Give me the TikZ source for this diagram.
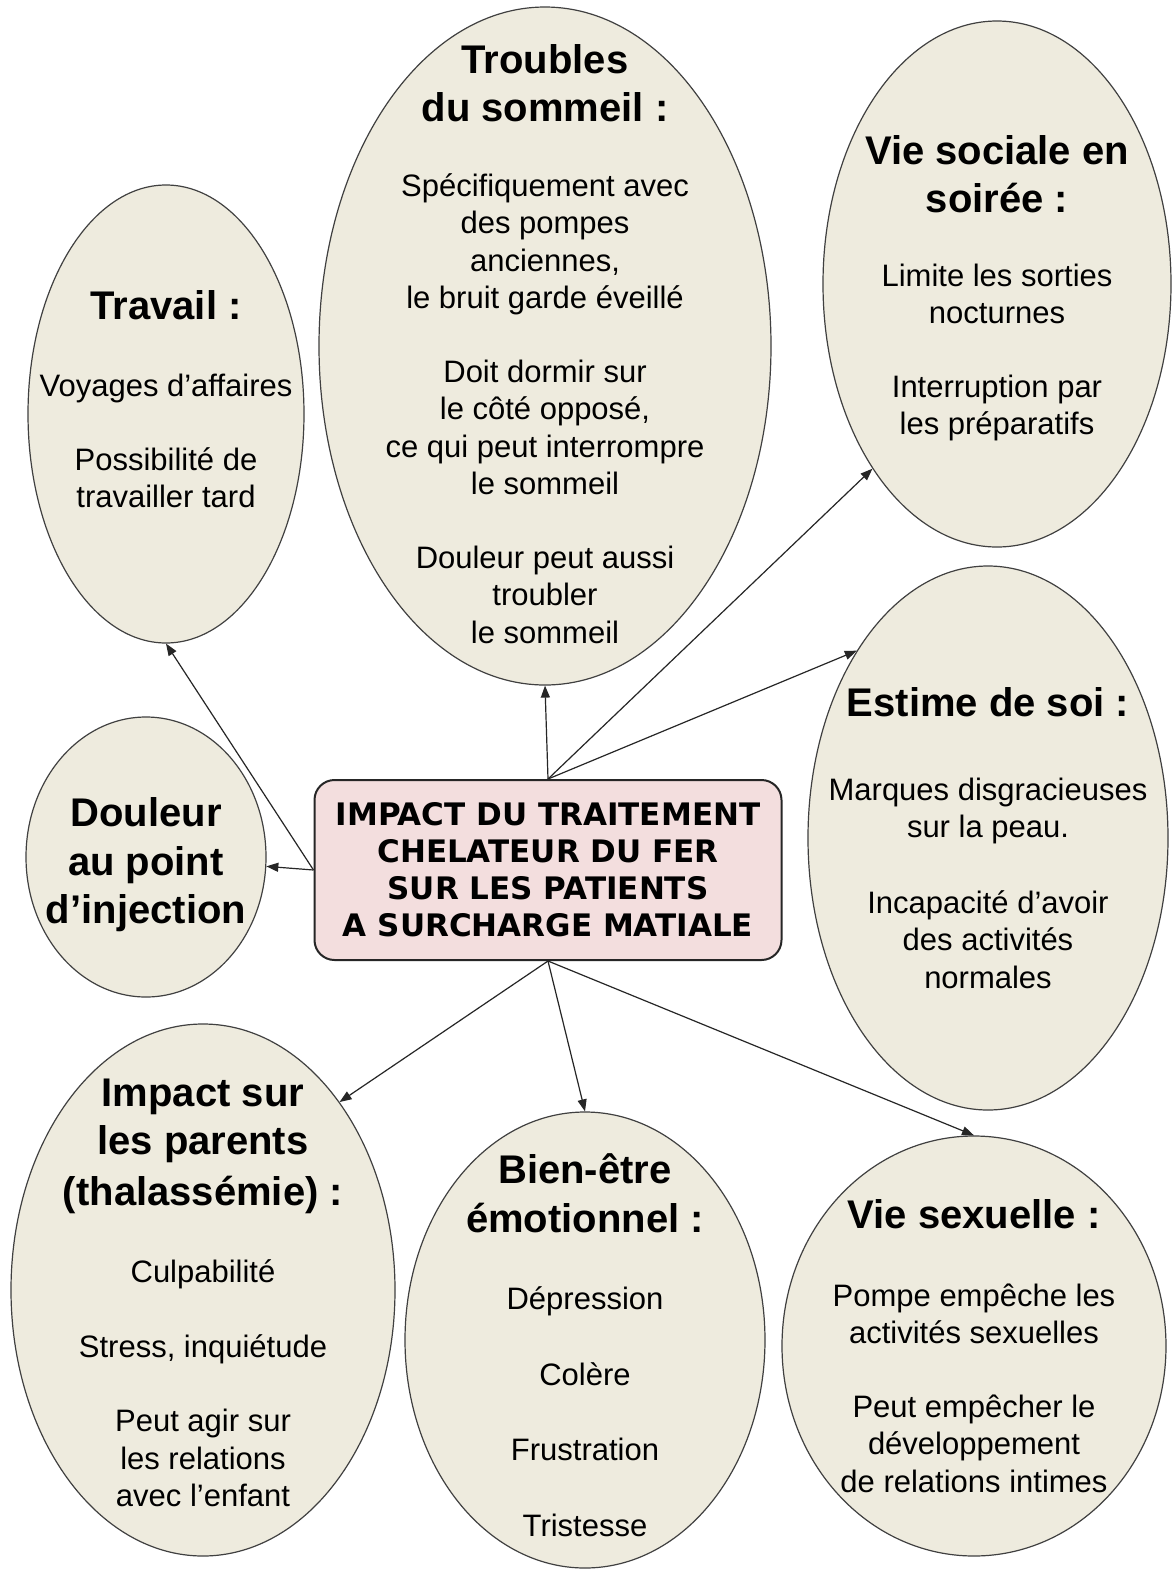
\documentclass[tikz,border=0pt]{standalone}
\usepackage{fontspec}
\setmainfont{Liberation Sans}
\newfontfamily\boxfont{DejaVu Sans}
\usetikzlibrary{shapes.geometric,arrows.meta}
\definecolor{bulle}{RGB}{238,235,222}
\definecolor{rose}{RGB}{243,222,222}
\newcommand\titre[1]{{\fontsize{20}{23}\selectfont\bfseries #1}}
\begin{document}
\begin{tikzpicture}[x=.5pt, y=-.5pt,
	bulle/.style={ellipse, draw=black!75, line width=.6pt, fill=bulle, inner sep=0pt},
	txt/.style={align=center, inner sep=0pt, font=\fontsize{15.5}{18.75}\selectfont},
	fleche/.style={draw=black!85, line width=.6pt, -{Triangle[length=6pt,width=4.5pt]}}]
	\useasboundingbox (0,0) rectangle (1174,1570);
	\fill[white] (0,0) rectangle (1174,1570);

	\node[bulle, minimum width=138pt, minimum height=229pt] (travail)  at (166,414)  {};
	\node[bulle, minimum width=226pt, minimum height=339pt] (sommeil)  at (545,346)  {};
	\node[bulle, minimum width=174pt, minimum height=263pt] (sociale)  at (997,284)  {};
	\node[bulle, minimum width=180pt, minimum height=272pt] (estime)   at (988,838)  {};
	\node[bulle, minimum width=120pt, minimum height=140pt] (douleur)  at (146,857)  {};
	\node[bulle, minimum width=192pt, minimum height=266pt] (parents)  at (203,1290) {};
	\node[bulle, minimum width=180pt, minimum height=228pt] (bienetre) at (585,1340) {};
	\node[bulle, minimum width=192pt, minimum height=210pt] (sexuelle) at (974,1346) {};

	\node[draw=black!85, line width=1pt, fill=rose, rounded corners=10pt,
		minimum width=233.5pt, minimum height=90pt, align=center,
		font=\boxfont\bfseries\fontsize{15.5}{18.5}\selectfont] (impact) at (548,870)
		{IMPACT DU TRAITEMENT\\CHELATEUR DU FER\\SUR LES PATIENTS\\A SURCHARGE MATIALE};

	\node[txt] (travail-txt) at (166,399) {\titre{Travail :}\\[20pt]
		Voyages d’affaires\\[18pt]Possibilité de\\travailler tard};
	\node[txt] (sommeil-txt) at (545,344) {\titre{Troubles}\\[5.5pt]\titre{du sommeil :}\\[18.5pt]
		Spécifiquement avec\\des pompes\\anciennes,\\le bruit garde éveillé\\[18pt]
		Doit dormir sur\\le côté opposé,\\ce qui peut interrompre\\le sommeil\\[18pt]
		Douleur peut aussi\\troubler\\le sommeil};
	\node[txt] (sociale-txt) at (997,288) {\titre{Vie sociale en}\\[5.5pt]\titre{soirée :}\\[18pt]
		Limite les sorties\\nocturnes\\[18pt]Interruption par\\les préparatifs};
	\node[txt] (estime-txt) at (estime) {\titre{Estime de soi :}\\[23pt]
		Marques disgracieuses\\sur la peau.\\[19pt]Incapacité d’avoir\\des activités\\normales};
	\node[txt] (douleur-txt) at (146,865) {\titre{Douleur}\\[5.5pt]\titre{au point}\\[5.5pt]\titre{d’injection}};
	\node[txt] (parents-txt) at (203,1293) {\titre{Impact sur}\\[5.5pt]\titre{les parents}\\[5.5pt]\titre{(thalassémie) :}\\[20pt]
		Culpabilité\\[18.5pt]Stress, inquiétude\\[18.5pt]Peut agir sur\\les relations\\avec l’enfant};
	\node[txt] (bienetre-txt) at (585,1345) {\titre{Bien-être}\\[5.5pt]\titre{émotionnel :}\\[20pt]
		Dépression\\[19pt]Colère\\[19pt]Frustration\\[19pt]Tristesse};
	\node[txt] (sexuelle-txt) at (sexuelle) {\titre{Vie sexuelle :}\\[20pt]
		Pompe empêche les\\activités sexuelles\\[18pt]Peut empêcher le\\développement\\de relations intimes};

	\draw[fleche] (impact.west) -- (travail.south);
	\draw[fleche] (impact.west) -- (douleur);
	\draw[fleche] (impact.north) -- (sommeil.south);
	\draw[fleche] (impact.north) -- (sociale.236);
	\draw[fleche] (impact.north) -- (estime.125);
	\draw[fleche] (impact.south) -- (parents.54);
	\draw[fleche] (impact.south) -- (bienetre.north);
	\draw[fleche] (impact.south) -- (sexuelle.north);
\end{tikzpicture}
\end{document}
